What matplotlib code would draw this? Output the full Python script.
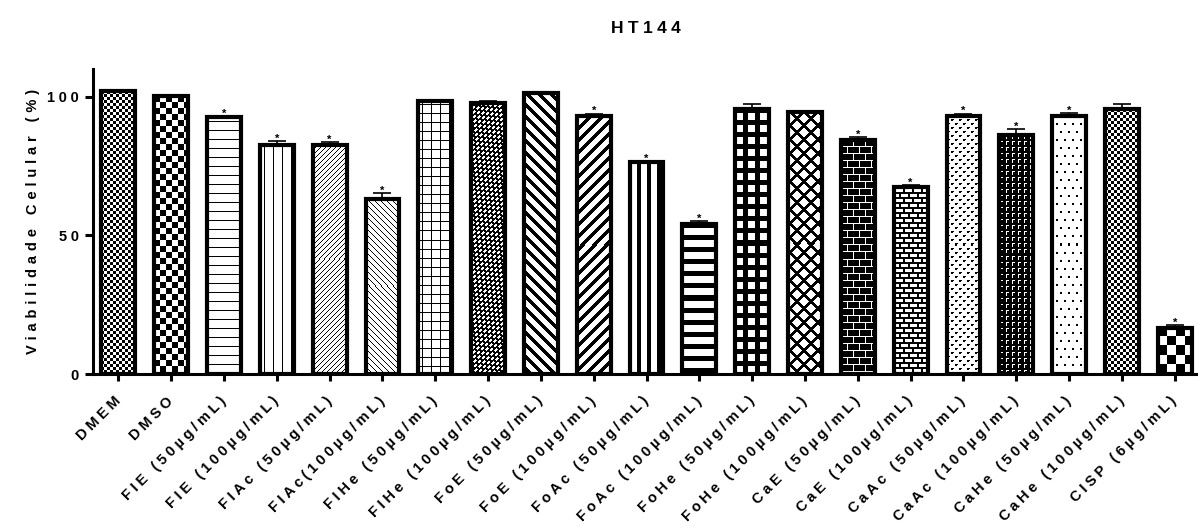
import numpy as np
import matplotlib.pyplot as plt

plt.rcParams['font.family'] = ['Liberation Sans', 'DejaVu Sans']
plt.rcParams['font.weight'] = 'bold'

groups = ["DMEM", "DMSO", "FIE (50µg/mL)", "FIE (100µg/mL)", "FIAc (50µg/mL)",
          "FIAc(100µg/mL)", "FIHe (50µg/mL)", "FIHe (100µg/mL)", "FoE (50µg/mL)",
          "FoE (100µg/mL)", "FoAc (50µg/mL)", "FoAc (100µg/mL)", "FoHe (50µg/mL)",
          "FoHe (100µg/mL)", "CaE (50µg/mL)", "CaE (100µg/mL)", "CaAc (50µg/mL)",
          "CaAc (100µg/mL)", "CaHe (50µg/mL)", "CaHe (100µg/mL)", "CISP (6µg/mL)"]
viability = [102.0, 100.2, 92.6, 82.7, 82.6, 63.2, 98.6, 97.7, 101.3, 93.1, 76.5,
             54.2, 95.6, 94.6, 84.5, 67.3, 93.2, 86.2, 93.2, 95.5, 16.6]
sem = [0.3, 0.2, 0.4, 1.4, 0.9, 2.0, 0.4, 0.7, 0.2, 0.8, 0.3,
       1.0, 1.6, 0.2, 1.0, 0.8, 0.7, 2.1, 0.9, 2.0, 1.0]
significant = [False, False, True, True, True, True, False, False, False, True, True,
               True, False, False, True, True, True, True, True, False, True]
yticks = [0, 50, 100]

# one fill pattern per group
patterns = ['check3', 'check6', 'hline', 'vline', 'fwd_thin', 'back_thin',
            'grid_thin', 'herring', 'back_thick', 'fwd_thick', 'vline_thick',
            'hline_thick', 'grid_thick', 'diamond', 'brick_dark', 'brick_light',
            'marks', 'ell', 'dots', 'check3', 'check9']


def spaced(s, gap='\u2005'):
    # wide letter spacing, as in the Prism export
    return gap.join(s)


def pattern(name, rows, cols):
    i, j = np.mgrid[0:rows, 0:cols]
    if name.startswith('check'):
        n = int(name[5:])
        black = (i // n + j // n) % 2 == 0
    elif name == 'hline':
        black = (i % 9) == 4
    elif name == 'vline':
        black = (j % 9) == 4
    elif name == 'fwd_thin':
        black = (i + j) % 5 == 0
    elif name == 'back_thin':
        black = (j - i) % 6 == 0
    elif name == 'grid_thin':
        black = ((i % 9) == 4) | ((j % 9) == 4)
    elif name == 'herring':
        # slanted white bricks on black
        u, v = i + j, j - i
        white = (u % 5 < 3) & (((v + 4 * ((u // 5) % 2)) % 8) < 5)
        black = ~white
    elif name == 'back_thick':
        black = (j - i) % 12 < 5
    elif name == 'fwd_thick':
        black = (i + j) % 12 < 5
    elif name == 'vline_thick':
        black = (j + 3) % 10 < 4
    elif name == 'hline_thick':
        black = i % 12 < 5
    elif name == 'grid_thick':
        black = ((i % 12) < 5) | (((j + 4) % 12) < 5)
    elif name == 'diamond':
        black = ((i + j) % 14 < 4) | ((j - i) % 14 < 4)
    elif name == 'brick_dark':
        mortar = (i % 7 < 1) | (((j + 6 * ((i // 7) % 2)) % 12) < 1)
        black = ~mortar
    elif name == 'brick_light':
        black = (i % 5 < 2) | (((j + 4 * ((i // 5) % 2)) % 9) < 2)
    elif name == 'marks':
        jj = j + 4 * ((i // 4) % 2)
        black = ((i % 4) < 2) & ((jj % 8) < 2) | (((i % 4) == 0) & ((jj % 8) == 2))
    elif name == 'ell':
        white = (((i % 6) == 1) & ((j % 6) >= 1) & ((j % 6) <= 3)) | \
                (((j % 6) == 1) & ((i % 6) >= 1) & ((i % 6) <= 4))
        black = ~white
    elif name == 'dots':
        black = ((i % 8) < 2) & (((j + 4 * ((i // 8) % 2)) % 8) < 2)
    else:
        black = np.zeros((rows, cols), bool)
    return black.astype(float)


fig = plt.figure(figsize=(11.98, 5.27), dpi=100)
ax = fig.add_axes([93 / 1198, 153 / 527, 1105 / 1198, 305 / 527])

x = np.arange(len(groups))
width = 0.64
ax.set_xlim(-0.48, 20.44)
ax.set_ylim(0, 110)

bars = ax.bar(x, viability, width, color='white', edgecolor='none', zorder=2)

# fill each bar with its pattern at pixel resolution
for b, name in zip(bars, patterns):
    x0, y0 = b.get_x(), b.get_y()
    x1, y1 = x0 + b.get_width(), y0 + b.get_height()
    (px0, py0), (px1, py1) = ax.transData.transform([(x0, y0), (x1, y1)])
    rows, cols = max(int(round(py1 - py0)), 1), max(int(round(px1 - px0)), 1)
    im = ax.imshow(pattern(name, rows, cols), cmap='gray_r', vmin=0, vmax=1,
                   extent=(x0, x1, y0, y1), origin='upper', aspect='auto',
                   interpolation='nearest', zorder=2.5)
    im.set_clip_path(b)

ax.bar(x, viability, width, fill=False, edgecolor='black', linewidth=3, zorder=3)

ax.errorbar(x, viability, yerr=[np.zeros(len(sem)), sem], fmt='none', ecolor='black',
            elinewidth=1.2, capsize=6.5, capthick=1.2, zorder=4)

for xi, v, e, s in zip(x, viability, sem, significant):
    if s:
        ax.annotate('*', (xi, v + e), xytext=(0, -0.5), textcoords='offset points',
                    ha='center', va='baseline', fontsize=8, zorder=5)

ax.set_xticks(x)
ax.set_xticklabels([spaced(g) for g in groups], rotation=45, ha='right', va='center',
                   rotation_mode='anchor', fontsize=10.5)
ax.set_yticks(yticks)
ax.set_yticklabels([spaced(str(t)) for t in yticks], fontsize=10.5)
ax.tick_params(axis='both', width=2.2)
ax.tick_params(axis='y', length=6, pad=4)
ax.tick_params(axis='x', length=5, pad=13)

for side in ['top', 'right']:
    ax.spines[side].set_visible(False)
for side in ['left', 'bottom']:
    ax.spines[side].set_linewidth(2.2)

ax.set_ylabel(spaced('Viabilidade Celular (%)', '\u2004'), fontsize=10.5,
              fontweight='bold', labelpad=5)
ax.set_title(spaced('HT144'), fontsize=12.5, fontweight='bold', pad=26)

fig.savefig('out.png', dpi=100)
